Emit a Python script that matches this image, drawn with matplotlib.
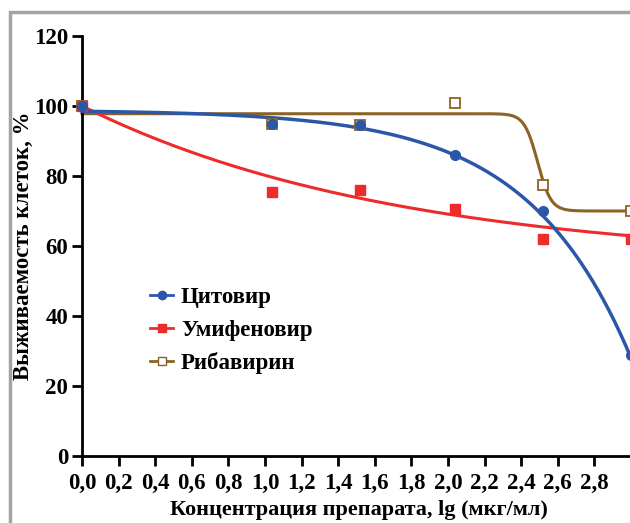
import numpy as np
import matplotlib.pyplot as plt
from matplotlib.patches import Rectangle
from matplotlib.lines import Line2D

# lg concentration of the tested points
conc = [0.0, 1.04, 1.52, 2.04, 2.52, 3.0]

# cell survival, %
cytovir = [100.0, 95.0, 94.5, 86.0, 70.0, 29.0]
umifenovir = [100.0, 75.5, 76.0, 70.5, 62.0, 62.0]
ribavirin = [100.0, 95.0, 94.5, 101.0, 77.5, 70.0]

labels = ["Цитовир", "Умифеновир", "Рибавирин"]
colors = ["#2a57a8", "#ee2a2a", "#8c6326"]

xticks = [0.0, 0.2, 0.4, 0.6, 0.8, 1.0, 1.2, 1.4, 1.6, 1.8, 2.0, 2.2, 2.4, 2.6, 2.8]
yticks = [0, 20, 40, 60, 80, 100, 120]

# fitted curve parameters
cyto_top, cyto_k, cyto_a = 98.5, 0.35, 1.77
umif_plateau, umif_k = 55.0, 0.58
riba_top, riba_bottom, riba_ec50, riba_hill = 97.8, 70.0, 2.49, 12.0


def cyto_fit(x):
    return cyto_top - cyto_k * (np.exp(cyto_a * x) - 1)


def umif_fit(x):
    return umif_plateau + (100 - umif_plateau) * np.exp(-umif_k * x)


def riba_fit(x):
    return riba_bottom + (riba_top - riba_bottom) / (1 + 10 ** (riba_hill * (x - riba_ec50)))


def main():
    plt.rcParams["font.family"] = ["Liberation Serif"]
    plt.rcParams["font.weight"] = "bold"

    fig = plt.figure(figsize=(6.3, 5.23), dpi=100)
    ax = fig.add_axes([82 / 630, 67 / 523, 549 / 630, 420 / 523])

    xs = np.linspace(0, 3.0, 400)
    ax.plot(xs, riba_fit(xs), color=colors[2], lw=2.2, zorder=2, clip_on=False)
    ax.plot(xs, umif_fit(xs), color=colors[1], lw=2.2, zorder=3, clip_on=False)
    ax.plot(xs, cyto_fit(xs), color=colors[0], lw=2.5, zorder=4, clip_on=False)

    ax.plot(conc, ribavirin, "s", ms=7, mfc="white", mec=colors[2], mew=1.3,
            ls="none", zorder=5, clip_on=False)
    ax.plot(conc, umifenovir, "s", ms=7, color=colors[1], ls="none", zorder=6,
            clip_on=False)
    ax.plot(conc, cytovir, "o", ms=7, color=colors[0], ls="none", zorder=7,
            clip_on=False)

    ax.set_xlim(0, 3.0)
    ax.set_ylim(0, 120)
    ax.set_xticks(xticks)
    ax.set_xticklabels([f"{t:.1f}".replace(".", ",") for t in xticks])
    ax.set_yticks(yticks)
    ax.tick_params(direction="out", length=7, width=2, labelsize=16.5)
    ax.tick_params(axis="x", pad=5)
    ax.tick_params(axis="y", pad=3)
    for t in ax.get_xticklabels() + ax.get_yticklabels():
        t.set_fontweight("bold")
    for side in ["top", "right"]:
        ax.spines[side].set_visible(False)
    for side in ["left", "bottom"]:
        ax.spines[side].set_linewidth(2)

    ax.set_xlabel("Концентрация препарата, lg (мкг/мл)", fontsize=16,
                  fontweight="bold")
    ax.set_ylabel("Выживаемость клеток, %", fontsize=16.5, fontweight="bold")
    ax.xaxis.set_label_coords(0.505, -0.104)
    ax.yaxis.set_label_coords(-0.088, 0.5)

    handles = [
        Line2D([], [], color=colors[0], lw=2, marker="o", ms=6),
        Line2D([], [], color=colors[1], lw=2, marker="s", ms=6),
        Line2D([], [], color=colors[2], lw=2, marker="s", ms=6, mfc="white",
               mec=colors[2]),
    ]
    ax.legend(handles, labels, loc="center left", bbox_to_anchor=(0.124, 0.298),
              frameon=False, borderpad=0, borderaxespad=0, handlelength=1.0,
              handletextpad=0.35, labelspacing=0.5,
              prop={"family": "Liberation Serif", "weight": "bold", "size": 16.5})

    fig.patches.append(Rectangle((10 / 630, -0.1), 1.2, 1.1 - 12 / 523,
                                 transform=fig.transFigure, fill=False,
                                 edgecolor="#a3a3a3", lw=2.5))

    fig.savefig("out.png", dpi=100)


if __name__ == "__main__":
    main()
